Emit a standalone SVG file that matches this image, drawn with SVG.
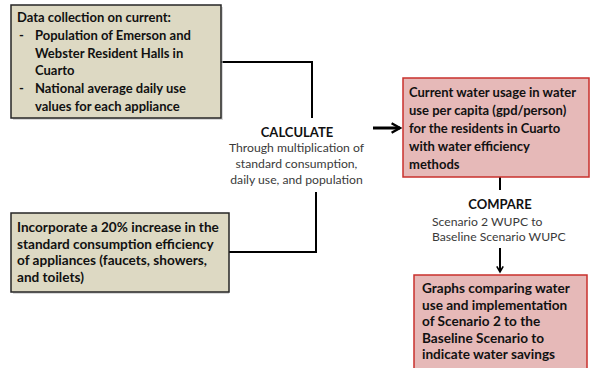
<svg xmlns="http://www.w3.org/2000/svg" width="592" height="368" viewBox="0 0 592 368">
<defs>
<style>
.beige{fill:#ddd9c3;stroke:#262626;stroke-width:1.5}
.red{fill:#e6b9b8;stroke:#c9302c;stroke-width:1.5}
.shadow{fill:#bfbfbf;opacity:0.6}
.bt{font-family:Lato,"Liberation Sans",sans-serif;font-weight:bold;font-size:13px;fill:#111}
.bl{font-size:13.6px}
.hd{font-family:Lato,"Liberation Sans",sans-serif;font-weight:bold;font-size:13px;fill:#111;text-anchor:middle}
.st{font-family:Lato,"Liberation Sans",sans-serif;font-size:12.2px;fill:#3a3a3a}
.ln{fill:none;stroke:#000;stroke-width:2}
.ar{fill:none;stroke:#000;stroke-width:3}
</style>
<marker id="ah" viewBox="0 0 10 10" refX="8" refY="5" markerWidth="4" markerHeight="4" orient="auto" markerUnits="strokeWidth">
<path d="M1,1 L8,5 L1,9" fill="none" stroke="#000" stroke-width="2"/>
</marker>
</defs>
<rect width="592" height="368" fill="#fff"/>
<g id="connectors">
<polyline class="ln" points="221,62 312,62 312,118"/>
<polyline class="ln" points="229,252 316,252 316,192"/>
<line class="ar" x1="373" y1="128" x2="400" y2="128" marker-end="url(#ah)"/>
<line class="ln" x1="500" y1="177" x2="500" y2="190"/>
<line class="ln" x1="500" y1="248" x2="500" y2="272" marker-end="url(#ah)"/>
</g>
<g id="data-collection">
<rect class="shadow" x="13" y="7" width="210" height="113"/>
<rect class="beige" x="11" y="5" width="210" height="113"/>
<text class="bt" x="17" y="22">Data collection on current:</text>
<text class="bt" x="19" y="40">-</text>
<text class="bt" x="35" y="40">Population of Emerson and</text>
<text class="bt" x="35" y="57.5">Webster Resident Halls in</text>
<text class="bt" x="35" y="75">Cuarto</text>
<text class="bt" x="19" y="93">-</text>
<text class="bt" x="35" y="93">National average daily use</text>
<text class="bt" x="35" y="111">values for each appliance</text>
</g>
<g id="incorporate">
<rect class="shadow" x="13" y="215" width="216" height="79"/>
<rect class="beige" x="11" y="213" width="218" height="79"/>
<text class="bt bl" x="17" y="232">Incorporate a 20% increase in the</text>
<text class="bt bl" x="17" y="248.5">standard consumption efficiency</text>
<text class="bt bl" x="17" y="265">of appliances (faucets, showers,</text>
<text class="bt bl" x="17" y="281.5">and toilets)</text>
</g>
<g id="calculate">
<text class="hd" x="297" y="137">CALCULATE</text>
<text class="st" x="296.5" y="152" text-anchor="middle">Through multiplication of</text>
<text class="st" x="296.5" y="168" text-anchor="middle">standard consumption,</text>
<text class="st" x="296.5" y="184" text-anchor="middle">daily use, and population</text>
</g>
<g id="current-usage">
<rect class="red" x="403" y="78" width="186" height="99"/>
<text class="bt" x="409" y="97">Current water usage in water</text>
<text class="bt" x="409" y="115">use per capita (gpd/person)</text>
<text class="bt" x="409" y="132.5">for the residents in Cuarto</text>
<text class="bt" x="409" y="150.5">with water efficiency</text>
<text class="bt" x="409" y="168.5">methods</text>
</g>
<g id="compare">
<text class="hd" x="500" y="209">COMPARE</text>
<text class="st" x="432" y="226">Scenario 2 WUPC to</text>
<text class="st" x="432" y="241">Baseline Scenario WUPC</text>
</g>
<g id="graphs">
<rect class="red" x="414" y="275" width="173" height="100"/>
<text class="bt bl" x="422" y="293">Graphs comparing water</text>
<text class="bt bl" x="422" y="309.5">use and implementation</text>
<text class="bt bl" x="422" y="326">of Scenario 2 to the</text>
<text class="bt bl" x="422" y="342.5">Baseline Scenario to</text>
<text class="bt bl" x="422" y="359">indicate water savings</text>
</g>
</svg>
